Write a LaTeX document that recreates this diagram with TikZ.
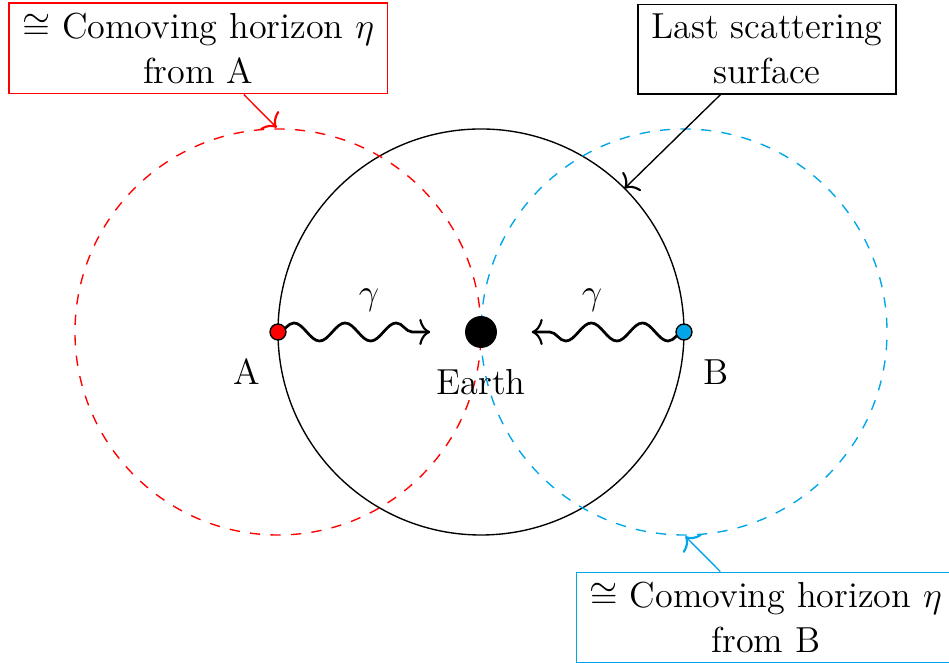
\documentclass[tikz,border=0pt]{standalone}
\usetikzlibrary{decorations.pathmorphing,calc,arrows.meta}
\definecolor{cblue}{RGB}{0,166,232}
\tikzset{
  tip/.tip={Computer Modern Rightarrow[length=4.6pt, width=11pt, line width=0.9pt]},
  lbl/.style={font=\Large, inner sep=4.5pt, scale=1.056, transform shape},
  callout/.style={draw, font=\Large, align=center, inner xsep=5.3pt, inner ysep=3.9pt,
    line width=0.576pt, scale=1.056, transform shape},
  horizon/.style={dash pattern=on 4.32pt off 4.32pt, dash phase=6.96pt, line width=0.576pt},
  wiggle/.style={line width=1.152pt, -tip, decorate,
    decoration={snake, amplitude=3.8pt, segment length=21.5pt}},
  pin/.style={-tip, line width=0.576pt},
  dot/.style={circle, draw, line width=0.576pt, inner sep=0pt, minimum size=0.236cm}
}
\begin{document}
\begin{tikzpicture}[line width=0.576pt]
\useasboundingbox (-7.108,-4.891) rectangle (6.916,4.906);
% coordinates
\coordinate (E0) at (0,0);
\coordinate (A0) at (-3,0);
\coordinate (B0) at (3,0);
% circles
\draw (E0) circle (3);
\draw[horizon, red] (A0) circle (3);
\draw[horizon, cblue] (B0) circle (3);
% targets
\coordinate (ta) at (-0.75,0);
\coordinate (tb) at (0.75,0);
\coordinate (rtop) at (-3.02,3.02);
\coordinate (btop) at (3.02,-3.02);
\coordinate (lss) at (45:3);
% wiggles
\draw[wiggle] (A0) -- (ta);
\draw[wiggle] (B0) -- (tb);
% dots
\node[dot, fill=red] (A) at (A0) {};
\node[dot, fill=cblue] (B) at (B0) {};
\node[circle, fill=black, inner sep=0pt, minimum size=0.472cm] (E) at (E0) {};
% labels
\node[lbl] (la) at (-3.46,-0.59) {A};
\node[lbl] (lb) at (3.47,-0.59) {B};
\node[lbl] (le) at (0,-0.74) {Earth};
\node[lbl] (ga) at (-1.655,0.47) {$\gamma$};
\node[lbl] (gb) at (1.64,0.47) {$\gamma$};
% callouts
\node[callout, red, text=black] (hA) at (-4.18,4.19) {$\cong$ Comoving horizon $\eta$\\from A};
\node[callout] (ls) at (4.226,4.18) {Last scattering\\surface};
\node[callout, cblue, text=black] (hB) at (4.21,-4.22) {$\cong$ Comoving horizon $\eta$\\from B};
\draw[pin, red] (hA) -- (rtop);
\draw[pin] (ls) -- (lss);
\draw[pin, cblue] (hB) -- (btop);
\end{tikzpicture}
\end{document}
